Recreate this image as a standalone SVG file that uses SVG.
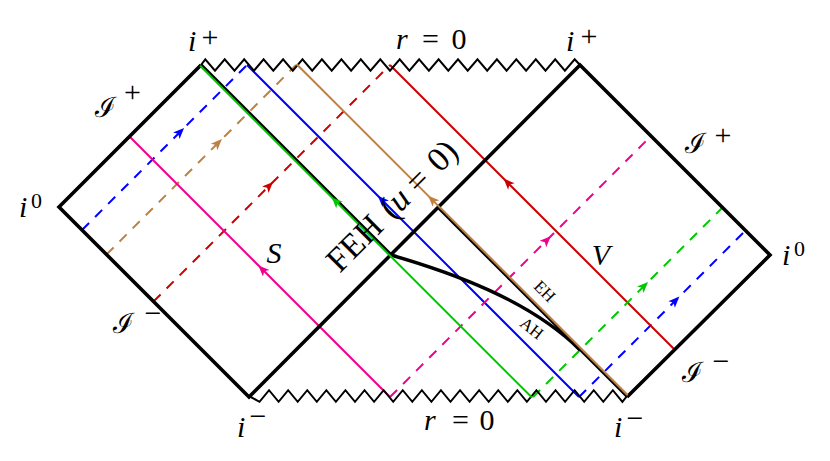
<svg xmlns="http://www.w3.org/2000/svg" width="830" height="461" viewBox="0 0 830 461">
<style>
.bd{fill:none;stroke:#000;stroke-width:3.6;stroke-linejoin:miter;stroke-miterlimit:10}
.zz{fill:none;stroke:#000;stroke-width:2;stroke-linejoin:miter}
.ray{fill:none;stroke-width:2}
.d{stroke-dasharray:10 8.5}
.cb{stroke:#0000ff}.cn{stroke:#bf8040}.cr{stroke:#cc0000}.cp{stroke:#f0008c}.cg{stroke:#00c800}
.t{font-family:'Liberation Serif','DejaVu Serif',serif;fill:#000}
.m{font-family:'Liberation Serif','DejaVu Serif',serif;font-style:italic;font-size:30px;fill:#000}
.sp{font-family:'Liberation Serif','DejaVu Serif',serif;font-size:30px;fill:#000;text-anchor:middle}
.s0{font-family:'Liberation Serif','DejaVu Serif',serif;font-size:22px;fill:#000;text-anchor:middle}
.sc{font-family:'DejaVu Serif','Liberation Serif',serif;font-size:28px;fill:#000}
.mid{text-anchor:middle}
</style>
<defs>
<marker id="aB" markerUnits="userSpaceOnUse" orient="auto" style="overflow:visible"><path d="M5.5,0 L-5.5,-4.6 L-2.8,0 L-5.5,4.6 Z" fill="#0000ff"/></marker>
<marker id="aN" markerUnits="userSpaceOnUse" orient="auto" style="overflow:visible"><path d="M5.5,0 L-5.5,-4.6 L-2.8,0 L-5.5,4.6 Z" fill="#bf8040"/></marker>
<marker id="aR" markerUnits="userSpaceOnUse" orient="auto" style="overflow:visible"><path d="M5.5,0 L-5.5,-4.6 L-2.8,0 L-5.5,4.6 Z" fill="#cc0000"/></marker>
<marker id="aP" markerUnits="userSpaceOnUse" orient="auto" style="overflow:visible"><path d="M5.5,0 L-5.5,-4.6 L-2.8,0 L-5.5,4.6 Z" fill="#f0008c"/></marker>
<marker id="aG" markerUnits="userSpaceOnUse" orient="auto" style="overflow:visible"><path d="M5.5,0 L-5.5,-4.6 L-2.8,0 L-5.5,4.6 Z" fill="#00c800"/></marker>
</defs>

<g id="connectors">
<path class="ray d cb" d="M82,230 L180.2,131.8 L247,65" marker-mid="url(#aB)"/>
<path class="ray cb" d="M579,397 L381.8,199.8 L247,65" marker-mid="url(#aB)"/>
<path class="ray d cb" d="M579,397 L675.5,300.5 L745.5,230.5" marker-mid="url(#aB)"/>
<path class="ray d cn" d="M106.5,254.5 L218,143 L296,65" marker-mid="url(#aN)"/>
<path class="ray d cr" d="M153.5,301.5 L269.15,185.85 L390,65" marker-mid="url(#aR)"/>
<path class="ray cr" d="M675,350 L507.5,182.5 L390,65" marker-mid="url(#aR)"/>
<path class="ray cp" d="M390,397 L262.3,269.3 L129.5,136.5" marker-mid="url(#aP)"/>
<path class="ray d cp" d="M390,397 L546.85,240.15 L651,136" marker-mid="url(#aP)"/>
<path class="ray d cg" d="M533,397 L644.15,285.85 L722.5,207.5" marker-mid="url(#aG)"/>
</g>

<g id="boundary">
<path class="bd" d="M201,65 L59,207 L249,397 L580,65 L770,255 L627,397"/>
<polyline class="zz" points="201,65 205.3,59.3 215,70.7 224.7,59.3 234.5,70.7 244.2,59.3 253.9,70.7 263.6,59.3 273.3,70.7 283.1,59.3 292.8,70.7 302.5,59.3 312.2,70.7 321.9,59.3 331.7,70.7 341.4,59.3 351.1,70.7 360.8,59.3 370.5,70.7 380.3,59.3 390,70.7 399.7,59.3 409.4,70.7 419.1,59.3 428.9,70.7 438.6,59.3 448.3,70.7 458,59.3 467.7,70.7 477.5,59.3 487.2,70.7 496.9,59.3 506.6,70.7 516.3,59.3 526.1,70.7 535.8,59.3 545.5,70.7 555.2,59.3 564.9,70.7 574.7,59.3 580,65"/>
<polyline class="zz" points="249,396 259.5,401.8 269.05,390.2 278.6,401.8 288.15,390.2 297.7,401.8 307.25,390.2 316.8,401.8 326.35,390.2 335.9,401.8 345.45,390.2 355,401.8 364.55,390.2 374.1,401.8 383.65,390.2 393.2,401.8 402.75,390.2 412.3,401.8 421.85,390.2 431.4,401.8 440.95,390.2 450.5,401.8 460.05,390.2 469.6,401.8 479.15,390.2 488.7,401.8 498.25,390.2 507.8,401.8 517.35,390.2 526.9,401.8 536.45,390.2 546,401.8 555.55,390.2 565.1,401.8 574.65,390.2 584.2,401.8 593.75,390.2 603.3,401.8 612.85,390.2 622.4,401.8 627,396"/>
</g>

<g id="horizons">
<path class="bd" d="M201,65 L391,255"/>
<path class="bd" d="M438.5,207.5 L627,396"/>
<path fill="none" stroke="#000" stroke-width="3.4" d="M391,255 C450,272 530,300 580,350"/>
</g>

<g id="connectors-top">
<path class="ray cg" transform="translate(-0.8,0.8)" d="M533,397 L336.35,200.35 L201,65" marker-mid="url(#aG)"/>
<path class="ray cn" transform="translate(0.7,-0.7)" d="M627,396 L431.35,200.35 L296,65" marker-mid="url(#aN)"/>
</g>

<g id="labels">
<text class="m" x="188" y="51">i</text><text class="sp" x="210" y="47">+</text>
<text class="m" x="566" y="51">i</text><text class="sp" x="589" y="46">+</text>
<text class="m" x="396" y="49">r</text><text class="sp" x="430.5" y="49">=</text><text class="t mid" font-size="30" x="459" y="49">0</text>
<text class="m" x="424" y="430">r</text><text class="sp" x="460.5" y="430">=</text><text class="t mid" font-size="30" x="487" y="430">0</text>
<text class="m" x="19" y="217">i</text><text class="s0" x="36.5" y="208">0</text>
<text class="m" x="782" y="265">i</text><text class="s0" x="799.5" y="256">0</text>
<text class="m" x="237" y="437">i</text><text class="sp" x="258" y="426">−</text>
<text class="m" x="614" y="437">i</text><text class="sp" x="635" y="428">−</text>
<text class="sc" x="95" y="117">ℐ</text><text class="sp" x="132.5" y="102">+</text>
<text class="sc" x="685" y="153">ℐ</text><text class="sp" x="723" y="144.5">+</text>
<text class="sc" x="113" y="333">ℐ</text><text class="sp" x="153" y="322.5">−</text>
<text class="sc" x="682" y="382">ℐ</text><text class="sp" x="721" y="370.5">−</text>
<text class="m mid" x="274" y="263">S</text>
<text class="m mid" x="601" y="265">V</text>
<g transform="translate(346.1,267.5) rotate(-45)">
<text class="t" font-size="34" x="-9" y="0">FEH</text>
<text class="t mid" font-size="34" x="72" y="0">(</text>
<text class="t mid" font-size="34" font-style="italic" x="85.5" y="0">u</text>
<text class="t mid" font-size="34" x="112" y="0">=</text>
<text class="t mid" font-size="34" x="141.5" y="0">0</text>
<text class="t mid" font-size="34" x="155.5" y="0">)</text>
</g>
<text class="t mid" font-size="17" transform="translate(545,291) rotate(45)" x="0" y="6">EH</text>
<text class="t mid" font-size="17" transform="translate(532,328) rotate(38)" x="0" y="6">AH</text>
</g>
</svg>
